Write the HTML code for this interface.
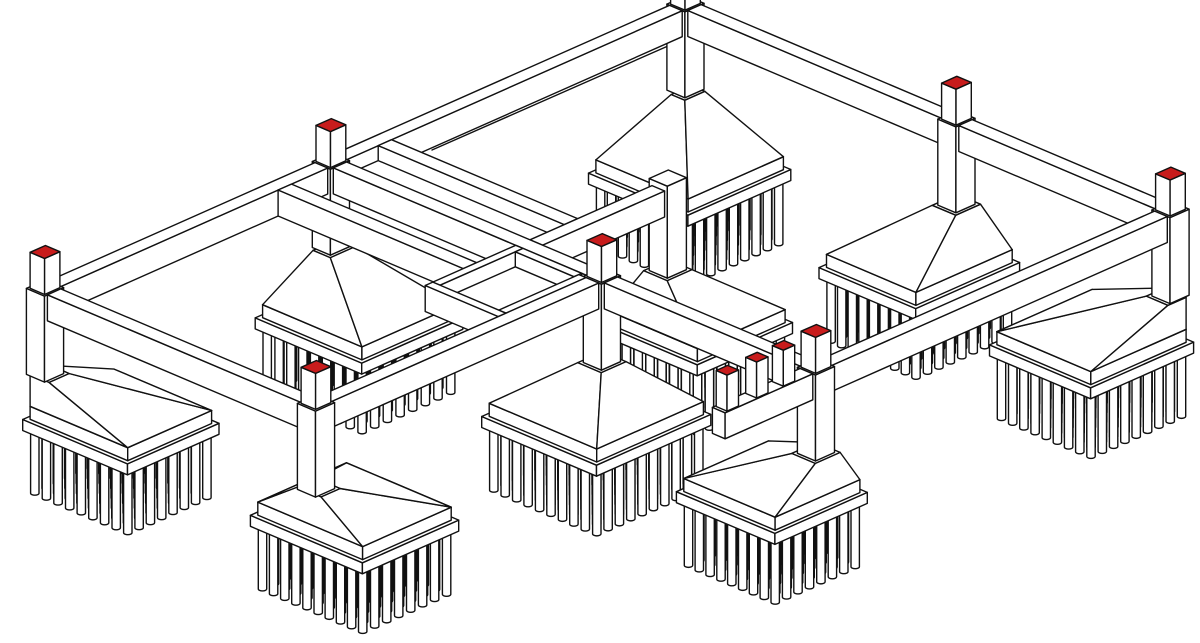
<!DOCTYPE html>
<html><head><meta charset="utf-8">
<style>html,body{margin:0;padding:0;background:#fff;overflow:hidden}svg{display:block}</style>
</head><body>
<svg id="s" width="1200" height="643" viewBox="0 0 1200 643" xmlns="http://www.w3.org/2000/svg"></svg>
<script>
(function(){
const AX=0.9033,AY=0.3833,BX=0.953,BY=-0.423,OX=45,OY=288;
function P(x,y,z){return [OX+AX*x+BX*y, OY+AY*x+BY*y-z];}
const V=[1,-0.948,0.784];
const objs=[];
function f1(v){return v.toFixed(1);}
function poly(pts,fill){
  const s=pts.map(p=>{const q=P(p[0],p[1],p[2]);return f1(q[0])+','+f1(q[1]);}).join(' ');
  return '<polygon points="'+s+'" fill="'+(fill||'#fff')+'"/>';
}
function box(x0,x1,y0,y1,z0,z1,topFill){
  const o={x0,x1,y0,y1,z0,z1};
  o.draw=function(){
    let s='';
    s+=poly([[x0,y0,z0],[x1,y0,z0],[x1,y0,z1],[x0,y0,z1]]);
    s+=poly([[x1,y0,z0],[x1,y1,z0],[x1,y1,z1],[x1,y0,z1]]);
    s+=poly([[x0,y0,z1],[x1,y0,z1],[x1,y1,z1],[x0,y1,z1]],topFill);
    return s;
  };
  objs.push(o);return o;
}
function frustum(b,t,zb,zt){
  const o={x0:b[0],x1:b[1],y0:b[2],y1:b[3],z0:zb,z1:zt};
  const B=[[b[0],b[2],zb],[b[1],b[2],zb],[b[1],b[3],zb],[b[0],b[3],zb]];
  const T=[[t[0],t[2],zt],[t[1],t[2],zt],[t[1],t[3],zt],[t[0],t[3],zt]];
  const faces=[];
  for(let i=0;i<4;i++){const j=(i+1)%4;faces.push([B[i],B[j],T[j],T[i]]);}
  faces.push(T);
  const c=[(b[0]+b[1]+t[0]+t[1])/4,(b[2]+b[3]+t[2]+t[3])/4,(zb+zt)/2];
  o.draw=function(){
    let s='';
    for(const f of faces){
      let nx=0,ny=0,nz=0,fx=0,fy=0,fz=0;
      for(let i=0;i<f.length;i++){const a=f[i],d=f[(i+1)%f.length];
        nx+=(a[1]-d[1])*(a[2]+d[2]);ny+=(a[2]-d[2])*(a[0]+d[0]);nz+=(a[0]-d[0])*(a[1]+d[1]);
        fx+=a[0];fy+=a[1];fz+=a[2];}
      fx/=f.length;fy/=f.length;fz/=f.length;
      if(nx*(fx-c[0])+ny*(fy-c[1])+nz*(fz-c[2])<0){nx=-nx;ny=-ny;nz=-nz;}
      const len=Math.hypot(nx,ny,nz); if(len<1e-6) continue;
      if((nx*V[0]+ny*V[1]+nz*V[2])/len>1e-4) s+=poly(f);
    }
    return s;
  };
  objs.push(o);return o;
}
function pile(cx,cy,r,z0,z1){
  const o={x0:cx-r,x1:cx+r,y0:cy-r,y1:cy+r,z0,z1};
  o.draw=function(){
    const T=P(cx,cy,z1),Bt=P(cx,cy,z0);const hw=1.313*r,eh=0.62*r;
    return '<path d="M'+f1(T[0]-hw)+','+f1(T[1])+' L'+f1(Bt[0]-hw)+','+f1(Bt[1])+' A'+hw.toFixed(2)+','+eh.toFixed(2)+' 0 0 0 '+f1(Bt[0]+hw)+','+f1(Bt[1])+' L'+f1(T[0]+hw)+','+f1(T[1])+'" fill="#fff"/>';
  };
  objs.push(o);return o;
}
const RED='#c81c1c';
const ZPB=-205,ZSB=-142,ZST=-131,ZCT=-118,ZFT=-86;
function footing(fx0,fx1,fy0,fy1,cx,cy){
  box(fx0,fx1,fy0,fy1,ZSB,ZST);
  const ci=4;
  const b=[fx0+ci,fx1-ci,fy0+ci,fy1-ci];
  box(b[0],b[1],b[2],b[3],ZST,ZCT);
  const h=13;
  const t=[Math.max(b[0],cx-h),Math.min(b[1],cx+h),Math.max(b[2],cy-h),Math.min(b[3],cy+h)];
  frustum(b,t,ZCT,ZFT);
  const r=3.2,ins=6.5;
  const lx=fx1-fx0-2*ins, ly=fy1-fy0-2*ins;
  const nx=Math.round(lx/12.5)+1, ny=Math.round(ly/12.5)+1;
  for(let i=0;i<nx;i++)for(let j=0;j<ny;j++){
    pile(fx0+ins+lx*i/(nx-1), fy0+ins+ly*j/(ny-1), r, ZPB, ZSB);
  }
}
function column(cx,cy,stub,ztop){
  box(cx-10,cx+10,cy-10,cy+10,ZFT,ztop===undefined?0:ztop);
  if(stub) box(cx-8,cx+8,cy-8,cy+8,0,36,RED);
}
const Y2=672;
// footings
footing(-12,104,-12,84,0,0);
footing(239,363,-11,90,300,0);
footing(-10,108,230,336,0,300);
footing(244,371,227,347,300,300);
footing(450,559,236,333,537,300);
footing(-6,104,576,684,0,Y2);
footing(245,352,580,689,300,Y2);
footing(440,552,574,682,537,Y2);
footing(195,300,400,500,220,445);
// columns
[[0,0],[300,0],[0,300],[300,300],[537,300],[0,Y2],[300,Y2],[537,Y2]].forEach(c=>column(c[0],c[1],true));
column(220,445,false,6);
// beams
const BZ0=-26,BZ1=0;
box(-7,7,10,290,BZ0,BZ1);
box(-7,7,310,Y2-10,BZ0,BZ1);
box(10,290,-7,7,BZ0,BZ1);
box(10,290,Y2-7,Y2+7,BZ0,BZ1);
box(310,527,Y2-7,Y2+7,BZ0,BZ1);
box(530,544,310,Y2-10,BZ0,BZ1);
box(310,527,293,307,BZ0,BZ1);
box(293,307,10,290,BZ0,BZ1);
box(10,290,293,307,BZ0,BZ1);
box(7,213,343,357,BZ0,BZ1);
box(213,227,307,435,BZ0,BZ1);
box(7,212,238,252,BZ0,BZ1);
box(530,544,198,290,BZ0,BZ1);
// trough floor
box(7,213,307,343,BZ0,-15);
// small hollow box
box(212,293,198,206,BZ0,BZ1);
box(212,220,206,293,BZ0,BZ1);
box(285,293,206,290,BZ0,BZ1);
box(220,285,285,293,BZ0,BZ1);
box(220,285,206,285,BZ0,-15);
// small red stubs on short beam
[207,238,266].forEach(y=>box(531,543,y-6,y+6,0,36,RED));

// screen bboxes
const n=objs.length;
for(const o of objs){
  let mnx=1e9,mxx=-1e9,mny=1e9,mxy=-1e9;
  for(const x of [o.x0,o.x1])for(const y of [o.y0,o.y1])for(const z of [o.z0,o.z1]){
    const q=P(x,y,z);mnx=Math.min(mnx,q[0]);mxx=Math.max(mxx,q[0]);mny=Math.min(mny,q[1]);mxy=Math.max(mxy,q[1]);}
  o.sb=[mnx,mxx,mny,mxy];
  o.d=((o.x0+o.x1)/2)*V[0]+((o.y0+o.y1)/2)*V[1]+((o.z0+o.z1)/2)*V[2];
}
function cmp(a,b){
  const e=0.01;
  if(a.x1<=b.x0+e) return -1; if(b.x1<=a.x0+e) return 1;
  if(a.y0>=b.y1-e) return -1; if(b.y0>=a.y1-e) return 1;
  if(a.z1<=b.z0+e) return -1; if(b.z1<=a.z0+e) return 1;
  return a.d<b.d?-1:1;
}
const adj=Array.from({length:n},()=>[]);const indeg=new Array(n).fill(0);
for(let i=0;i<n;i++){const a=objs[i];
  for(let j=i+1;j<n;j++){const b=objs[j];
    if(a.sb[1]<b.sb[0]-1||b.sb[1]<a.sb[0]-1||a.sb[3]<b.sb[2]-1||b.sb[3]<a.sb[2]-1) continue;
    if(cmp(a,b)<0){adj[i].push(j);indeg[j]++;}else{adj[j].push(i);indeg[i]++;}
  }}
const done=new Array(n).fill(false);const order=[];
for(let k=0;k<n;k++){
  let best=-1;
  for(let i=0;i<n;i++){if(done[i]||indeg[i]>0)continue;if(best<0||objs[i].d<objs[best].d)best=i;}
  if(best<0){for(let i=0;i<n;i++){if(done[i])continue;if(best<0||indeg[i]<indeg[best]||(indeg[i]===indeg[best]&&objs[i].d<objs[best].d))best=i;}}
  done[best]=true;order.push(best);
  for(const j of adj[best]) indeg[j]--;
}
let out='<rect width="1200" height="643" fill="#fff"/><g stroke="#111" stroke-width="1.4" stroke-linejoin="round" stroke-linecap="round">';
out+='<line x1="432" y1="150" x2="668" y2="46" fill="none"/>';
for(const i of order) out+=objs[i].draw();
out+='</g>';
document.getElementById('s').innerHTML=out;
})();
</script>
</body></html>
